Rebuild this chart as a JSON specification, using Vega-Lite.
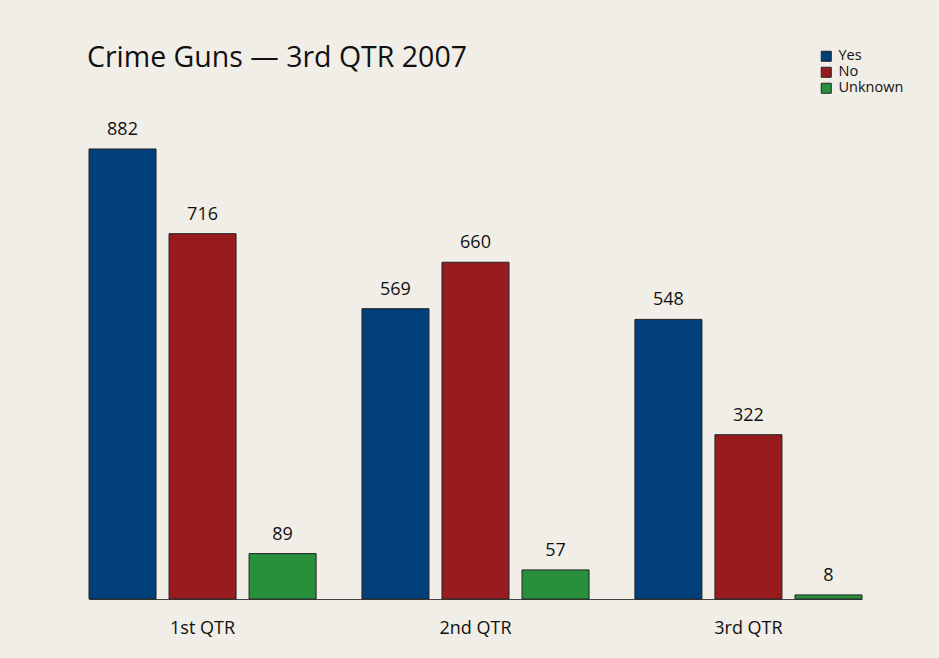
{
  "$schema": "https://vega.github.io/schema/vega-lite/v6.json",
  "autosize": {"type": "none"},
  "padding": {"left": 89, "top": 100, "right": 77, "bottom": 59},
  "width": 773,
  "height": 499,
  "background": "#f1eee7",
  "title": {
    "text": "Crime Guns — 3rd QTR 2007",
    "anchor": "start",
    "frame": "group",
    "dx": -2,
    "offset": 0,
    "dy": 23,
    "font": "Open Sans",
    "fontSize": 28.5,
    "fontWeight": "normal",
    "color": "#111111"
  },
  "data": {
    "values": [
      {"quarter": "1st QTR", "status": "Yes", "count": 882},
      {"quarter": "1st QTR", "status": "No", "count": 716},
      {"quarter": "1st QTR", "status": "Unknown", "count": 89},
      {"quarter": "2nd QTR", "status": "Yes", "count": 569},
      {"quarter": "2nd QTR", "status": "No", "count": 660},
      {"quarter": "2nd QTR", "status": "Unknown", "count": 57},
      {"quarter": "3rd QTR", "status": "Yes", "count": 548},
      {"quarter": "3rd QTR", "status": "No", "count": 322},
      {"quarter": "3rd QTR", "status": "Unknown", "count": 8}
    ]
  },
  "encoding": {
    "x": {
      "field": "quarter", "type": "nominal", "sort": null,
      "scale": {"paddingInner": 0.168, "paddingOuter": 0},
      "axis": {
        "title": null, "labelAngle": 0, "ticks": false, "labelPadding": 20,
        "labelFont": "Open Sans", "labelFontSize": 18, "labelColor": "#111111",
        "domainColor": "#444444", "domainWidth": 1
      }
    },
    "xOffset": {
      "field": "status", "type": "nominal", "sort": ["Yes", "No", "Unknown"],
      "scale": {"paddingInner": 0.1625, "paddingOuter": 0}
    },
    "y": {
      "field": "count", "type": "quantitative",
      "scale": {"domain": [0, 978], "nice": false},
      "axis": null
    }
  },
  "layer": [
    {
      "mark": {"type": "bar", "stroke": "#222222", "strokeWidth": 1},
      "encoding": {
        "color": {
          "field": "status", "type": "nominal",
          "scale": {"domain": ["Yes", "No", "Unknown"], "range": ["#003f7a", "#971b1f", "#28903c"]},
          "legend": {
            "title": null, "orient": "none", "legendX": 730, "legendY": -51,
            "symbolType": "square", "symbolSize": 100, "symbolStrokeColor": "#222222", "symbolStrokeWidth": 1,
            "labelFont": "Open Sans", "labelFontSize": 14.5, "labelColor": "#111111",
            "rowPadding": 0, "labelOffset": 5
          }
        }
      }
    },
    {
      "mark": {"type": "text", "dy": -19, "font": "Open Sans", "fontSize": 18, "color": "#111111"},
      "encoding": {"text": {"field": "count", "type": "quantitative"}}
    }
  ],
  "config": {"view": {"stroke": null}}
}
